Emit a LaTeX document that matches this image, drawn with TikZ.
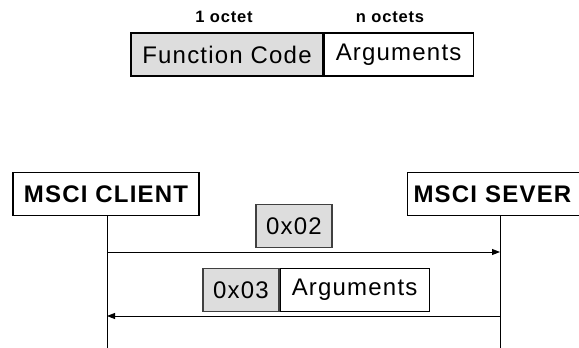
\documentclass[tikz,border=0pt]{standalone}
\usepackage{fontspec}
\setmainfont{Liberation Sans}[LetterSpace=5]
\usetikzlibrary{positioning,arrows.meta}
\tikzset{
    field/.style={draw, line width=1.1pt, inner sep=0pt, minimum height=43pt, font=\fontsize{24}{28}\selectfont},
    code/.style={field, fill=gray!27, draw=black!75},
    party/.style={draw, line width=1.1pt, inner sep=0pt, minimum height=43pt, font=\bfseries\fontsize{24}{28}\selectfont},
    size/.style={inner sep=0pt, font=\bfseries\fontsize{16.5}{20}\selectfont},
    msg/.style={line width=0.9pt, -{Triangle[length=8pt,width=6pt]}}
}

\begin{document}
\begin{tikzpicture}[x=1pt, y=-1pt]
        \useasboundingbox (0,0) rectangle (579,348);
        \node (fc) [field, fill=gray!27, minimum width=192pt] at (227,54.5) {Function Code};
        \node (args) [field, right=0pt of fc, minimum width=149pt] {Arguments};
        \node (n1) [size] at (224,17) {1 octet};
        \node (nn) [size] at (390,17) {n octets};
        \node (client) [party, minimum width=186pt] at (106,194) {MSCI CLIENT};
        \node (server) [party, anchor=west, text width=175pt, inner xsep=6pt, align=left] at (407,194) {MSCI SEVER};
        \node (c02) [code, minimum width=76pt] at (294,226) {0x02};
        \node (c03) [code, minimum width=76pt] at (241,290) {0x03};
        \node (a03) [field, right=0pt of c03, minimum width=149pt] {Arguments};
        \coordinate (cend) at (107,348);
        \coordinate (send) at (500,348);
        \coordinate (req0) at (107,252);
        \coordinate (req1) at (500,252);
        \coordinate (rsp0) at (500,316);
        \coordinate (rsp1) at (107,316);
        \draw [line width=0.9pt] (client.south -| cend) -- (cend);
        \draw [line width=0.9pt] (server.south -| send) -- (send);
        \draw [msg] (req0) -- (req1);
        \draw [msg] (rsp0) -- (rsp1);
\end{tikzpicture}
\end{document}
